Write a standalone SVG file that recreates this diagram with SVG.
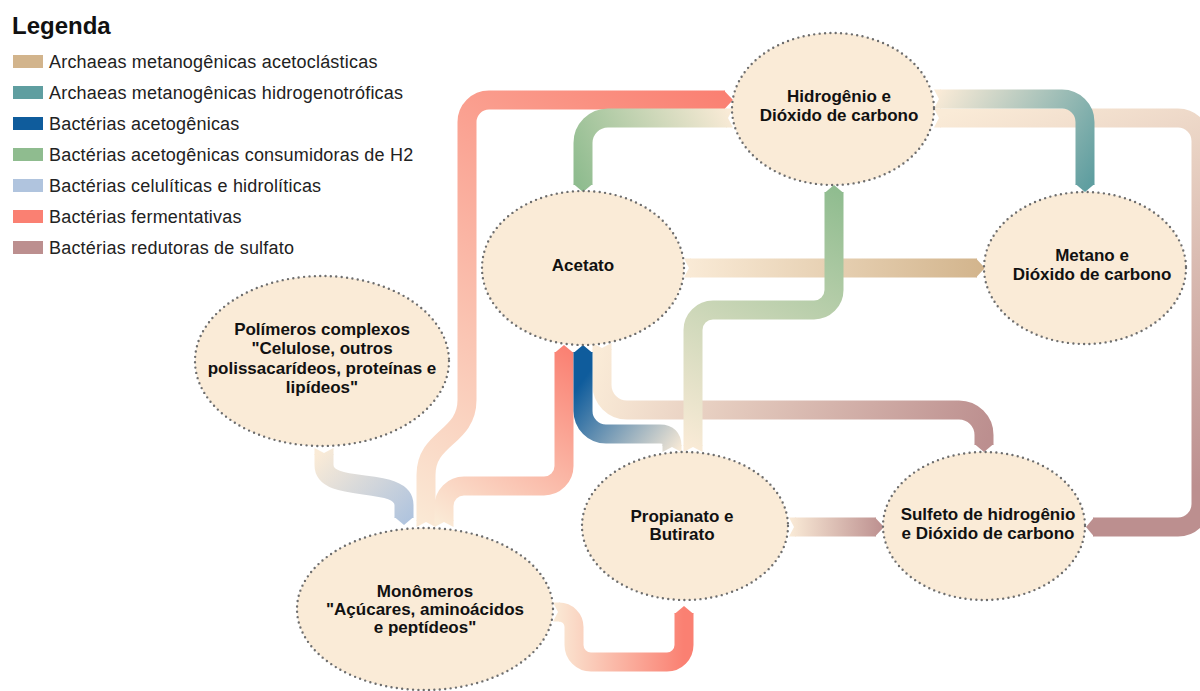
<svg xmlns="http://www.w3.org/2000/svg" width="1200" height="691" viewBox="0 0 1200 691">
<style>
.node{fill:#faebd7;stroke:#6e6e6e;stroke-width:2.4;stroke-dasharray:0 5.4;stroke-linecap:round}
.lbl{font-family:"Liberation Sans",Arial,sans-serif;font-weight:bold;font-size:17px;fill:#111;text-anchor:middle}
.leg{font-family:"Liberation Sans",Arial,sans-serif;font-size:18px;letter-spacing:0.2px;fill:#222}
.band{fill:none;stroke-width:19;stroke-linecap:butt;stroke-linejoin:round}
</style>
<defs>
<linearGradient id="gA" gradientUnits="userSpaceOnUse" x1="426" y1="540" x2="732" y2="100"><stop offset="0" stop-color="#faebd7"/><stop offset="1" stop-color="#fa8072"/></linearGradient>
<linearGradient id="gB" gradientUnits="userSpaceOnUse" x1="444" y1="527" x2="564" y2="345"><stop offset="0" stop-color="#faebd7"/><stop offset="1" stop-color="#fa8072"/></linearGradient>
<linearGradient id="gC" gradientUnits="userSpaceOnUse" x1="324" y1="448" x2="404" y2="525"><stop offset="0" stop-color="#faebd7"/><stop offset="1" stop-color="#b0c4de"/></linearGradient>
<linearGradient id="gD" gradientUnits="userSpaceOnUse" x1="553" y1="612" x2="684" y2="612"><stop offset="0" stop-color="#faebd7"/><stop offset="1" stop-color="#fa8072"/></linearGradient>
<linearGradient id="gE" gradientUnits="userSpaceOnUse" x1="680" y1="452" x2="583" y2="380"><stop offset="0" stop-color="#faebd7"/><stop offset="1" stop-color="#0f5c9c"/></linearGradient>
<linearGradient id="gF" gradientUnits="userSpaceOnUse" x1="733" y1="118" x2="583" y2="192"><stop offset="0" stop-color="#faebd7"/><stop offset="1" stop-color="#8fbc8f"/></linearGradient>
<linearGradient id="gG" gradientUnits="userSpaceOnUse" x1="693" y1="452" x2="834" y2="186"><stop offset="0" stop-color="#faebd7"/><stop offset="1" stop-color="#8fbc8f"/></linearGradient>
<linearGradient id="gH" gradientUnits="userSpaceOnUse" x1="684" y1="268" x2="985" y2="268"><stop offset="0" stop-color="#faebd7"/><stop offset="1" stop-color="#d2b48c"/></linearGradient>
<linearGradient id="gI" gradientUnits="userSpaceOnUse" x1="934" y1="99" x2="1085" y2="192"><stop offset="0" stop-color="#faebd7"/><stop offset="1" stop-color="#5f9ea0"/></linearGradient>
<linearGradient id="gJ" gradientUnits="userSpaceOnUse" x1="934" y1="118" x2="1086" y2="527"><stop offset="0" stop-color="#faebd7"/><stop offset="1" stop-color="#bc8f8f"/></linearGradient>
<linearGradient id="gK" gradientUnits="userSpaceOnUse" x1="602" y1="343" x2="984" y2="452"><stop offset="0" stop-color="#faebd7"/><stop offset="1" stop-color="#bc8f8f"/></linearGradient>
<linearGradient id="gL" gradientUnits="userSpaceOnUse" x1="789" y1="527" x2="884" y2="527"><stop offset="0" stop-color="#faebd7"/><stop offset="1" stop-color="#bc8f8f"/></linearGradient>
</defs>
<rect width="1200" height="691" fill="#ffffff"/>

<g id="legend">
<text x="12" y="34" font-family="Liberation Sans, Arial, sans-serif" font-weight="bold" font-size="24" fill="#111">Legenda</text>
<rect x="13" y="55" width="30" height="13" fill="#d2b48c"/><text class="leg" x="49" y="68">Archaeas metanogênicas acetoclásticas</text>
<rect x="13" y="86" width="30" height="13" fill="#5f9ea0"/><text class="leg" x="49" y="99">Archaeas metanogênicas hidrogenotróficas</text>
<rect x="13" y="117" width="30" height="13" fill="#0f5c9c"/><text class="leg" x="49" y="130">Bactérias acetogênicas</text>
<rect x="13" y="148" width="30" height="13" fill="#8fbc8f"/><text class="leg" x="49" y="161">Bactérias acetogênicas consumidoras de H2</text>
<rect x="13" y="179" width="30" height="13" fill="#b0c4de"/><text class="leg" x="49" y="192">Bactérias celulíticas e hidrolíticas</text>
<rect x="13" y="210" width="30" height="13" fill="#fa8072"/><text class="leg" x="49" y="223">Bactérias fermentativas</text>
<rect x="13" y="241" width="30" height="13" fill="#bc8f8f"/><text class="leg" x="49" y="254">Bactérias redutoras de sulfato</text>
</g>

<g id="connectors">
<g id="hid-sulfeto">
<path class="band" stroke="url(#gJ)" d="M940,118 L1178,118 A23,23 0 0 1 1201,141 L1201,504 A23,23 0 0 1 1178,527 L1093,527"/>
<polygon fill="url(#gJ)" points="934,108.5 941,108.5 941,127.5 934,127.5 939,118"/>
<polygon fill="url(#gJ)" points="1094,517.5 1086,527 1094,536.5"/>
</g>
<g id="acetato-sulfeto">
<path class="band" stroke="url(#gK)" d="M602,349 L602,385 A25,25 0 0 0 627,410 L959,410 A25,25 0 0 1 984,435 L984,445"/>
<polygon fill="url(#gK)" points="611.5,343 611.5,350 592.5,350 592.5,343 602,348"/>
<polygon fill="url(#gK)" points="974.5,444 984,452 993.5,444"/>
</g>
<g id="acetato-metano">
<path class="band" stroke="url(#gH)" d="M690,268 L977,268"/>
<polygon fill="url(#gH)" points="684,258.5 691,258.5 691,277.5 684,277.5 689,268"/>
<polygon fill="url(#gH)" points="976,258.5 985,268 976,277.5"/>
</g>
<g id="mon-hid">
<path class="band" stroke="url(#gA)" d="M426,521 L426,475 C426,437 467,438 467,400 L467,122 A22,22 0 0 1 489,100 L725,100"/>
<polygon fill="url(#gA)" points="435.5,527 435.5,520 416.5,520 416.5,527 426,522"/>
<polygon fill="url(#gA)" points="724,90.5 733,100 724,109.5"/>
</g>
<g id="mon-acetato">
<path class="band" stroke="url(#gB)" d="M444,521 L444,506 A20,20 0 0 1 464,486 L544,486 A20,20 0 0 0 564,466 L564,352"/>
<polygon fill="url(#gB)" points="453.5,527 453.5,520 434.5,520 434.5,527 444,522"/>
<polygon fill="url(#gB)" points="554.5,353 564,345 573.5,353"/>
</g>
<g id="pol-mon">
<path class="band" stroke="url(#gC)" d="M324,454 L324,465 C324,495 404,475 404,505 L404,518"/>
<polygon fill="url(#gC)" points="333.5,448 333.5,455 314.5,455 314.5,448 324,453"/>
<polygon fill="url(#gC)" points="394.5,517 404,525 413.5,517"/>
</g>
<g id="mon-prop">
<path class="band" stroke="url(#gD)" d="M559,612 A15,15 0 0 1 574,627 L574,645 A17,17 0 0 0 591,662 L667,662 A17,17 0 0 0 684,645 L684,613"/>
<polygon fill="url(#gD)" points="553,602.5 560,602.5 560,621.5 553,621.5 558,612"/>
<polygon fill="url(#gD)" points="674.5,614 684,606 693.5,614"/>
</g>
<g id="prop-acetato">
<path class="band" stroke="url(#gE)" d="M672,446 Q672,434 660,434 L606,434 A23,23 0 0 1 583,411 L583,352"/>
<polygon fill="url(#gE)" points="681.5,452 681.5,445 662.5,445 662.5,452 672,447"/>
<polygon fill="url(#gE)" points="573.5,353 583,345 592.5,353"/>
</g>
<g id="hid-acetato">
<path class="band" stroke="url(#gF)" d="M727,118 L608,118 A25,25 0 0 0 583,143 L583,185"/>
<polygon fill="url(#gF)" points="733,108.5 726,108.5 726,127.5 733,127.5 728,118"/>
<polygon fill="url(#gF)" points="573.5,184 583,192 592.5,184"/>
</g>
<g id="prop-hid">
<path class="band" stroke="url(#gG)" d="M693,446 L693,330 A20,20 0 0 1 713,310 L814,310 A20,20 0 0 0 834,290 L834,192"/>
<polygon fill="url(#gG)" points="702.5,452 702.5,445 683.5,445 683.5,452 693,447"/>
<polygon fill="url(#gG)" points="824.5,193 834,185 843.5,193"/>
</g>
<g id="hid-metano">
<path class="band" stroke="url(#gI)" d="M940,99 L1062,99 A23,23 0 0 1 1085,122 L1085,185"/>
<polygon fill="url(#gI)" points="934,89.5 941,89.5 941,108.5 934,108.5 939,99"/>
<polygon fill="url(#gI)" points="1075.5,184 1085,192 1094.5,184"/>
</g>
<g id="prop-sulfeto">
<path class="band" stroke="url(#gL)" d="M795,527 L876,527"/>
<polygon fill="url(#gL)" points="789,517.5 796,517.5 796,536.5 789,536.5 794,527"/>
<polygon fill="url(#gL)" points="875,517.5 884,527 875,536.5"/>
</g>
</g>

<g id="node-hidrogenio">
<ellipse class="node" cx="833" cy="109" rx="101" ry="76"/>
<text class="lbl" x="839" y="102">Hidrogênio e</text>
<text class="lbl" x="839" y="121">Dióxido de carbono</text>
</g>
<g id="node-acetato">
<ellipse class="node" cx="583" cy="268" rx="101" ry="77"/>
<text class="lbl" x="583" y="271">Acetato</text>
</g>
<g id="node-metano">
<ellipse class="node" cx="1085" cy="268" rx="101" ry="76"/>
<text class="lbl" x="1092" y="261">Metano e</text>
<text class="lbl" x="1092" y="280">Dióxido de carbono</text>
</g>
<g id="node-polimeros">
<ellipse class="node" cx="322" cy="361" rx="127" ry="85"/>
<text class="lbl" x="322" y="335">Polímeros complexos</text>
<text class="lbl" x="322" y="354">"Celulose, outros</text>
<text class="lbl" x="322" y="374">polissacarídeos, proteínas e</text>
<text class="lbl" x="322" y="393">lipídeos"</text>
</g>
<g id="node-propianato">
<ellipse class="node" cx="685" cy="526" rx="103" ry="74"/>
<text class="lbl" x="682" y="522">Propianato e</text>
<text class="lbl" x="682" y="540">Butirato</text>
</g>
<g id="node-sulfeto">
<ellipse class="node" cx="984" cy="526" rx="101" ry="74"/>
<text class="lbl" x="988" y="520">Sulfeto de hidrogênio</text>
<text class="lbl" x="988" y="539">e Dióxido de carbono</text>
</g>
<g id="node-monomeros">
<ellipse class="node" cx="425" cy="609" rx="128" ry="81"/>
<text class="lbl" x="425" y="597">Monômeros</text>
<text class="lbl" x="425" y="615">"Açúcares, aminoácidos</text>
<text class="lbl" x="425" y="633">e peptídeos"</text>
</g>
</svg>
